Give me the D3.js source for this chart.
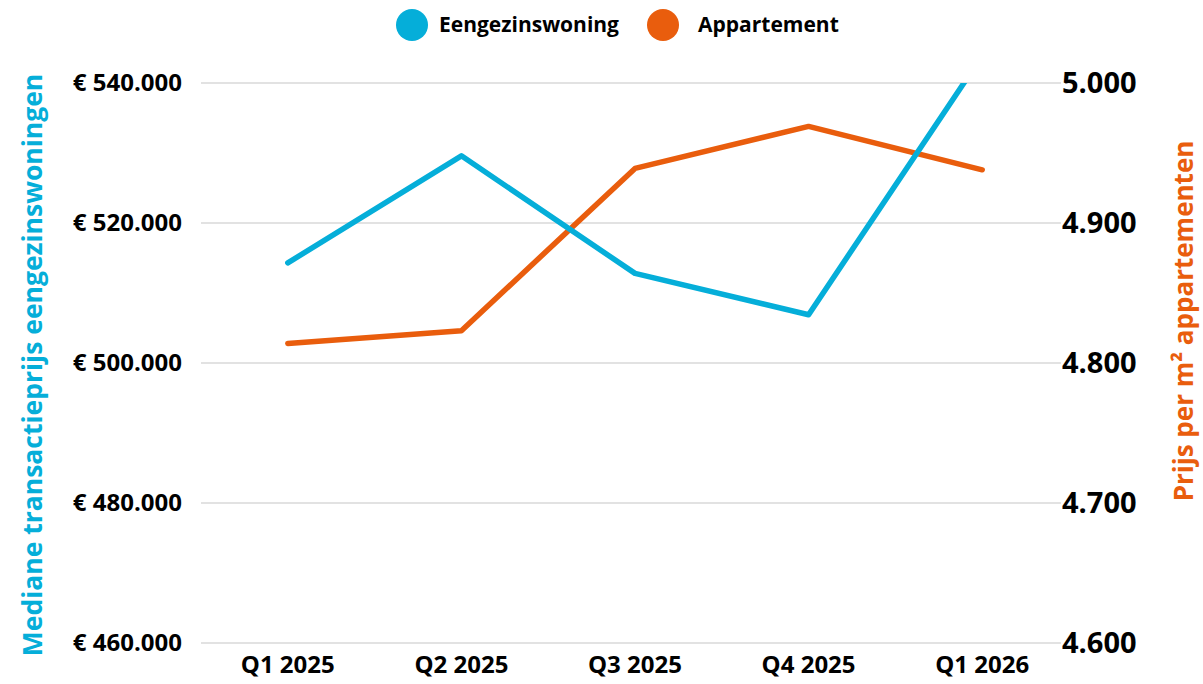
<!DOCTYPE html>
<html>
<head>
<meta charset="utf-8">
<script src="https://cdn.jsdelivr.net/npm/d3@7"></script>
<style>
  body { margin: 0; background: #fff; }
  text { font-family: "Open Sans", "Noto Sans", sans-serif; font-weight: 700; }
</style>
</head>
<body>
<div id="chart"></div>
<script>
// data
var quarters = ["Q1 2025", "Q2 2025", "Q3 2025", "Q4 2025", "Q1 2026"];
var eengezins = [514300, 529600, 512800, 506900, 543900];
var appartement = [4814, 4823, 4939, 4969, 4938];
var leftTicks = [460000, 480000, 500000, 520000, 540000];
var rightTicks = [4600, 4700, 4800, 4900, 5000];

var blue = "#05AED9";
var orange = "#E95D0D";

var width = 1203, height = 684;
var margin = {top: 83, right: 134, bottom: 41, left: 201};

var svg = d3.select("#chart").append("svg")
    .attr("width", width)
    .attr("height", height);

var nl = d3.formatLocale({decimal: ",", thousands: ".", grouping: [3], currency: ["€ ", ""]});
var fmtEuro = v => "€ " + nl.format(",")(v);
var fmtNum = nl.format(",");

var x = d3.scaleBand()
    .domain(quarters)
    .range([margin.left, width - margin.right]);

var yLeft = d3.scaleLinear()
    .domain([460000, 540000])
    .range([height - margin.bottom, margin.top]);

var yRight = d3.scaleLinear()
    .domain([4600, 5000])
    .range([height - margin.bottom, margin.top]);

// gridlines
svg.append("g").selectAll("line")
    .data(leftTicks)
    .enter().append("line")
    .attr("x1", margin.left)
    .attr("x2", width - margin.right - 8)
    .attr("y1", d => yLeft(d))
    .attr("y2", d => yLeft(d))
    .attr("stroke", "#d9d9d9")
    .attr("stroke-width", 1.5);

// left axis labels
svg.append("g").selectAll("text")
    .data(leftTicks)
    .enter().append("text")
    .attr("x", 182)
    .attr("y", d => yLeft(d))
    .attr("dy", "0.35em")
    .attr("text-anchor", "end")
    .style("font-size", "24px")
    .attr("fill", "#000")
    .text(fmtEuro);

// right axis labels
svg.append("g").selectAll("text")
    .data(rightTicks)
    .enter().append("text")
    .attr("x", 1062)
    .attr("y", d => yRight(d))
    .attr("dy", "0.35em")
    .attr("text-anchor", "start")
    .style("font-size", "29px")
    .attr("fill", "#000")
    .text(fmtNum);

// x labels
svg.append("g").selectAll("text")
    .data(quarters)
    .enter().append("text")
    .attr("x", d => x(d) + x.bandwidth() / 2)
    .attr("y", 665)
    .attr("dy", "0.35em")
    .attr("text-anchor", "middle")
    .style("font-size", "24px")
    .attr("fill", "#000")
    .text(d => d);

// axis titles
svg.append("text")
    .attr("transform", "translate(33,365) rotate(-90)")
    .attr("dy", "0.35em")
    .attr("text-anchor", "middle")
    .style("font-size", "26.5px")
    .attr("fill", blue)
    .text("Mediane transactieprijs eengezinswoningen");

svg.append("text")
    .attr("transform", "translate(1184,321) rotate(-90)")
    .attr("dy", "0.35em")
    .attr("text-anchor", "middle")
    .style("font-size", "26px")
    .attr("fill", orange)
    .text("Prijs per m² appartementen");

// clip to plot area
svg.append("clipPath").attr("id", "plot-clip")
    .append("rect")
    .attr("x", 0)
    .attr("y", margin.top)
    .attr("width", width)
    .attr("height", height - margin.top - margin.bottom);

var cx = d => x(d) + x.bandwidth() / 2;

var lineLeft = d3.line()
    .x((d, i) => cx(quarters[i]))
    .y(d => yLeft(d));

var lineRight = d3.line()
    .x((d, i) => cx(quarters[i]))
    .y(d => yRight(d));

var plot = svg.append("g").attr("clip-path", "url(#plot-clip)");

plot.append("path")
    .datum(appartement)
    .attr("d", lineRight)
    .attr("fill", "none")
    .attr("stroke", orange)
    .attr("stroke-width", 5.5)
    .attr("stroke-linecap", "round")
    .attr("stroke-linejoin", "round");

plot.append("path")
    .datum(eengezins)
    .attr("d", lineLeft)
    .attr("fill", "none")
    .attr("stroke", blue)
    .attr("stroke-width", 5.5)
    .attr("stroke-linecap", "round")
    .attr("stroke-linejoin", "round");

// legend
var legendData = [
    {name: "Eengezinswoning", color: blue, x: 412},
    {name: "Appartement", color: orange, x: 663}
];
var legend = svg.selectAll(".legend")
    .data(legendData)
    .enter().append("g")
    .attr("class", "legend")
    .attr("transform", d => "translate(" + d.x + ",25)");

legend.append("circle")
    .attr("r", 16)
    .attr("fill", d => d.color);

legend.append("text")
    .attr("x", (d, i) => i == 0 ? 27 : 35)
    .attr("dy", "0.35em")
    .style("font-size", "21px")
    .attr("fill", "#000")
    .text(d => d.name);
</script>
</body>
</html>
